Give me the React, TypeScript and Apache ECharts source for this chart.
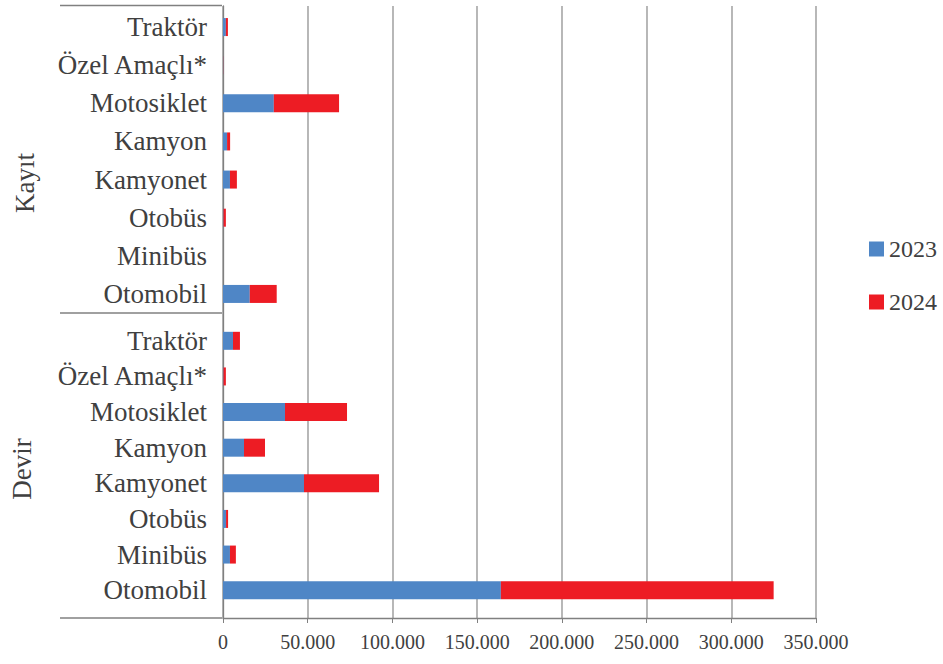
import React, { useEffect, useRef } from "react";
import * as echarts from "echarts";

// Categories listed bottom-to-top within each group
const vehicleTypes = ["Otomobil", "Minibüs", "Otobüs", "Kamyonet", "Kamyon", "Motosiklet", "Özel Amaçlı*", "Traktör"];
const groups = ["Devir", "Kayıt"];

const devir2023 = [164000, 4100, 1800, 47800, 12400, 36600, 300, 5900];
const devir2024 = [161000, 3500, 1200, 44300, 12400, 36600, 1400, 4100];
const kayit2023 = [15800, 0, 300, 4100, 2400, 30000, 100, 1700];
const kayit2024 = [15900, 0, 1400, 4100, 1800, 38500, 100, 1200];

const seriesNames = ["2023", "2024"];
const xTicks = { min: 0, max: 350000, interval: 50000 };

const FONT = "'Liberation Serif', 'DejaVu Serif', serif";
const TEXT = "#404040";
const BLUE = "#4F86C6";
const RED = "#ED1C24";

export default function App() {
  const ref = useRef<HTMLDivElement>(null);
  useEffect(() => {
    if (!ref.current) return;
    const chart = echarts.init(ref.current, null, { renderer: "svg" });
    const fmtNum = (v: number) => String(v).replace(/\B(?=(\d{3})+(?!\d))/g, ".");
    const lineStyle = { stroke: "#808080", lineWidth: 1.3 };
    const hiddenX = (gi: number) => ({
      type: "value",
      gridIndex: gi,
      min: xTicks.min,
      max: xTicks.max,
      interval: xTicks.interval,
      show: false,
    });
    const catY = (gi: number) => ({
      type: "category",
      gridIndex: gi,
      data: vehicleTypes,
      axisLine: { show: false },
      axisTick: { show: false },
      axisLabel: { fontFamily: FONT, fontSize: 27, color: TEXT, margin: 16 },
    });
    const bars = (gi: number, d23: number[], d24: number[]) => [
      {
        name: seriesNames[0],
        type: "bar",
        xAxisIndex: gi,
        yAxisIndex: gi,
        stack: "total" + gi,
        barWidth: 18,
        itemStyle: { color: BLUE },
        data: d23,
      },
      {
        name: seriesNames[1],
        type: "bar",
        xAxisIndex: gi,
        yAxisIndex: gi,
        stack: "total" + gi,
        barWidth: 18,
        itemStyle: { color: RED },
        data: d24,
      },
    ];
    chart.setOption({
      animation: false,
      backgroundColor: "#ffffff",
      grid: [
        { left: 223, right: 127, top: 6, bottom: 46 },
        { left: 223, right: 127, top: 8, bottom: 664 - 313 },
        { left: 223, right: 127, top: 323, bottom: 56 },
      ],
      legend: {
        orient: "vertical",
        left: 864,
        top: 232,
        itemWidth: 15,
        itemHeight: 15,
        itemGap: 29,
        icon: "rect",
        data: seriesNames,
        textStyle: { fontFamily: FONT, fontSize: 24, color: TEXT },
      },
      xAxis: [
        {
          type: "value",
          gridIndex: 0,
          min: xTicks.min,
          max: xTicks.max,
          interval: xTicks.interval,
          axisLine: { show: true, lineStyle: { color: "#808080", width: 1.3 } },
          axisTick: { show: true, length: 5, lineStyle: { color: "#808080" } },
          splitLine: { show: true, lineStyle: { color: "#A6A6A6", width: 1.6 } },
          axisLabel: {
            fontFamily: FONT,
            fontSize: 20,
            color: TEXT,
            margin: 14,
            formatter: (v: number) => fmtNum(v),
          },
        },
        hiddenX(1),
        hiddenX(2),
      ],
      yAxis: [
        {
          type: "value",
          gridIndex: 0,
          min: 0,
          max: 1,
          axisLine: { show: true, lineStyle: { color: "#808080", width: 1.3 } },
          axisTick: { show: false },
          axisLabel: { show: false },
          splitLine: { show: false },
        },
        catY(1),
        catY(2),
      ],
      series: [...bars(2, devir2023, devir2024), ...bars(1, kayit2023, kayit2024)],
      graphic: [
        { type: "line", shape: { x1: 60, y1: 5.5, x2: 222, y2: 5.5 }, style: lineStyle },
        { type: "line", shape: { x1: 60, y1: 313, x2: 222, y2: 313 }, style: lineStyle },
        { type: "line", shape: { x1: 60, y1: 618, x2: 222, y2: 618 }, style: lineStyle },
        {
          type: "text",
          x: 25,
          y: 183,
          rotation: Math.PI / 2,
          style: {
            text: groups[1],
            fontFamily: FONT,
            fontSize: 27,
            fill: TEXT,
            align: "center",
            verticalAlign: "middle",
          },
        },
        {
          type: "text",
          x: 22,
          y: 469,
          rotation: Math.PI / 2,
          style: {
            text: groups[0],
            fontFamily: FONT,
            fontSize: 27,
            fill: TEXT,
            align: "center",
            verticalAlign: "middle",
          },
        },
      ],
    });
    return () => chart.dispose();
  }, []);
  return (
    <div
      ref={ref}
      style={{ position: "fixed", left: 0, top: 0, width: 943, height: 664, background: "#fff" }}
    />
  );
}
